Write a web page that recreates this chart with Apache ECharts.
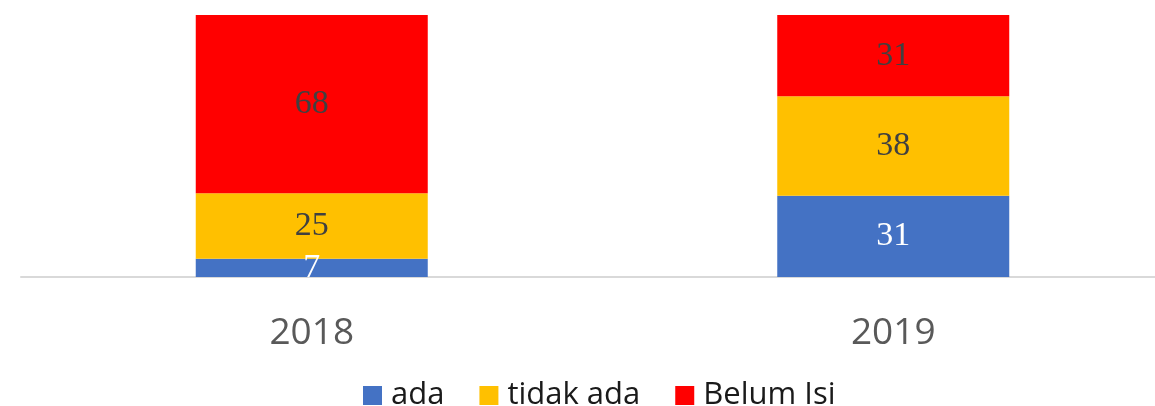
<!DOCTYPE html>
<html>
<head>
<meta charset="utf-8">
<script src="https://cdn.jsdelivr.net/npm/echarts@6/dist/echarts.min.js"></script>
<style>
  html, body { margin: 0; padding: 0; background: #fff; }
  #chart { width: 1155px; height: 406px; }
</style>
</head>
<body>
<div id="chart"></div>
<script>
// tahun
var years = ["2018", "2019"];
// nilai per kategori
var adaList = [7, 31];
var tidakAdaList = [25, 38];
var belumIsiList = [68, 31];

var chart = echarts.init(document.getElementById("chart"));

function makeSeries(name, data, color, labelColor) {
  return {
    name: name,
    type: "bar",
    stack: "total",
    barWidth: 232,
    data: data,
    itemStyle: { color: color },
    label: {
      show: true,
      position: "inside",
      color: labelColor,
      fontFamily: "Liberation Serif",
      fontSize: 34
    }
  };
}

chart.setOption({
  animation: false,
  grid: {
    left: 21,
    top: 15,
    right: -29,
    height: 262,
    outerBoundsMode: "none",
    containLabel: false
  },
  legend: {
    top: 375,
    left: 358,
    itemWidth: 19,
    itemHeight: 19,
    itemGap: 35,
    icon: "rect",
    textStyle: {
      fontFamily: "Open Sans",
      fontSize: 31,
      color: "#1a1a1a",
      padding: [0, 0, 0, 4]
    },
    data: ["ada", "tidak ada", "Belum Isi"]
  },
  xAxis: {
    type: "category",
    data: years,
    axisTick: { show: false },
    axisLine: { lineStyle: { color: "#d9d9d9", width: 2 } },
    axisLabel: {
      margin: 38,
      fontFamily: "Open Sans",
      fontSize: 37,
      color: "#595959"
    }
  },
  yAxis: {
    type: "value",
    min: 0,
    max: 100,
    show: false
  },
  series: [
    makeSeries("ada", adaList, "#4472c4", "#ffffff"),
    makeSeries("tidak ada", tidakAdaList, "#ffc000", "#404040"),
    makeSeries("Belum Isi", belumIsiList, "#ff0000", "#404040")
  ]
});
</script>
</body>
</html>
